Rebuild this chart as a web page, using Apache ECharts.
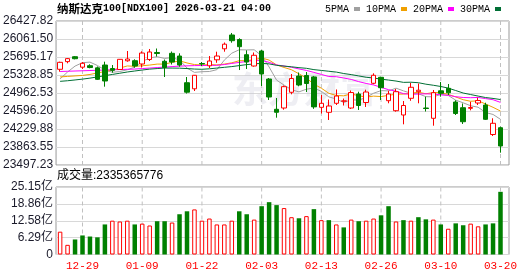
<!DOCTYPE html>
<html><head><meta charset="utf-8">
<script src="https://cdn.jsdelivr.net/npm/echarts@6/dist/echarts.min.js"></script>
<style>html,body{margin:0;padding:0;background:#fff}#c{width:530px;height:276px}</style>
</head><body><div id="c"></div>
<script>
const dates = ['12-23','12-24','12-26','12-29','12-30','12-31','01-02','01-05','01-06','01-07','01-08','01-09','01-12','01-13','01-14','01-15','01-16','01-20','01-21','01-22','01-23','01-26','01-27','01-28','01-29','01-30','02-02','02-03','02-04','02-05','02-06','02-09','02-10','02-11','02-12','02-13','02-17','02-18','02-19','02-20','02-23','02-24','02-25','02-26','02-27','03-02','03-03','03-04','03-05','03-06','03-09','03-10','03-11','03-12','03-13','03-16','03-17','03-18','03-19','03-20'];
const tickLabels = ['12-29','01-09','01-22','02-03','02-13','02-26','03-10','03-20'];
const open  = [25445,25601,25701,25488,25518,25474,25532,25461,25441,25618,25620,25553,25644,25787,25608,25770,25715,25172,25048,25563,25516,25638,25862,26143,26051,25742,25512,25817,25247,24631,24657,24977,25308,25319,25290,24671,24570,24753,24795,24657,24942,24769,25160,25282,24806,24602,24515,24855,24989,24657,24448,25007,25058,24779,24663,24651,24759,24718,24118,24256];
const close = [25587,25662,25660,25567,25481,25241,25207,25424,25648,25654,25512,25776,25797,25766,25481,25593,25532,24979,25323,25553,25614,25715,25956,26027,25905,25593,25730,25349,24881,24570,25091,25258,25125,25156,24680,24753,24698,24901,24803,24972,24708,24983,25323,25070,24942,24989,24708,25079,25019,24647,24969,24956,24967,24545,24378,24667,24810,24427,24346,23884];
const low   = [25396,25567,25648,25451,25465,25227,25091,25376,25431,25599,25477,25481,25614,25705,25288,25543,25497,24952,25003,25512,25471,25577,25803,25986,25430,25451,25498,25105,24820,24460,24623,24936,25099,24983,24640,24545,24413,24718,24708,24637,24617,24678,25140,24820,24753,24582,24325,24804,24753,24586,24297,24887,24922,24515,24332,24610,24718,24413,24087,23748];
const high  = [25600,25675,25715,25593,25547,25502,25600,25532,25654,25817,25648,25811,25858,25868,25644,25807,25770,25288,25329,25593,25715,25803,25990,26184,26076,25831,25787,25838,25268,24861,25115,25349,25380,25390,25310,24922,24830,25034,24850,25013,24989,25030,25363,25294,25009,25044,24800,25166,25156,24887,25024,25186,25146,24814,24749,24785,24866,24765,24448,24277];
const ma5  = [25250,25390,25510,25580,25591,25522,25431,25384,25400,25435,25489,25603,25677,25701,25666,25683,25634,25470,25382,25396,25400,25437,25632,25773,25843,25839,25842,25721,25492,25225,25124,25030,24985,25040,25064,24996,24884,24840,24769,24825,24816,24873,24958,25011,25005,25061,25006,24958,24947,24888,24884,24934,24912,24817,24763,24703,24673,24565,24526,24427];
const ma10 = [25290,25300,25310,25320,25340,25370,25400,25430,25470,25513,25506,25517,25531,25551,25551,25586,25618,25574,25541,25531,25541,25535,25551,25577,25620,25620,25640,25677,25632,25534,25482,25436,25353,25266,25144,25060,24957,24912,24905,24945,24906,24879,24899,24890,24915,24939,24940,24958,24979,24947,24973,24970,24935,24882,24826,24794,24804,24739,24671,24595];
const ma20 = [25400,25405,25410,25415,25420,25425,25430,25435,25440,25445,25450,25460,25470,25480,25490,25500,25510,25515,25520,25522,25524,25526,25541,25564,25585,25603,25629,25625,25587,25533,25512,25486,25452,25422,25382,25340,25298,25294,25268,25239,25194,25157,25126,25078,25030,25000,24949,24935,24942,24946,24940,24925,24917,24887,24871,24867,24872,24849,24826,24771];
const ma30 = [25200,25212,25228,25245,25265,25290,25315,25340,25365,25390,25410,25430,25448,25460,25470,25470,25468,25460,25450,25445,25455,25470,25485,25500,25520,25540,25555,25565,25555,25526,25510,25496,25478,25465,25438,25422,25405,25388,25359,25337,25310,25283,25268,25244,25226,25206,25179,25182,25172,25142,25120,25095,25062,25013,24962,24931,24900,24870,24852,24829];
const volume = [8.5e8,3.6e8,5.6e8,7.1e8,6.7e8,6.4e8,11.2e8,12.6e8,12.3e8,12.6e8,11.2e8,11.5e8,10.8e8,12.4e8,12.4e8,11.9e8,15.0e8,16.1e8,16.8e8,12.6e8,13.4e8,11.2e8,11.2e8,12.6e8,16.1e8,15.0e8,13.0e8,18.0e8,19.5e8,18.4e8,17.3e8,13.9e8,13.5e8,14.3e8,16.9e8,12.8e8,12.8e8,11.2e8,10.1e8,13.0e8,12.4e8,12.6e8,13.4e8,14.6e8,18.0e8,12.3e8,12.8e8,12.6e8,13.9e8,13.1e8,13.0e8,11.2e8,9.6e8,11.6e8,10.9e8,11.5e8,10.5e8,11.2e8,11.6e8,2335365776];
const priceMin = 23497.23, priceMax = 26427.82;
const volMax = 25.15e8;
const lastVolumeText = '2335365776';

const RED = '#ff0000', GREEN = '#008000';
const isTick = (i, v) => tickLabels.indexOf(v) >= 0;
const chart = echarts.init(document.getElementById('c'), null, {renderer: 'canvas'});
const candleData = dates.map((d, i) => [open[i], close[i], low[i], high[i]]);
const volData = volume.map((v, i) => {
  const up = i === 0 ? close[i] >= open[i] : close[i] >= close[i - 1];
  return {value: v, itemStyle: up ? {color: '#fff', borderColor: RED, borderWidth: 1} : {color: GREEN, borderColor: GREEN, borderWidth: 0}};
});
const gridL = 56.375, gridW = 447.86;
const tickIdx = tickLabels.map(d => dates.indexOf(d));
// vertical dashed guide lines at the labelled dates, placed by the category axes
const guide = (i, xi, yi, lo, hi) => ({
  type: 'line', xAxisIndex: xi, yAxisIndex: yi, data: [[i, lo], [i, hi]], silent: true, z: 1,
  showSymbol: false, lineStyle: {color: '#c0c0c0', type: [4, 3], width: 1}
});
const maLine = (name, data, color) => ({name, type: 'line', xAxisIndex: 1, yAxisIndex: 1, data, showSymbol: false, symbol: 'none', lineStyle: {width: 1, color}, itemStyle: {color}, z: 3, silent: true});

chart.setOption({
  animation: false,
  title: {
    left: 57, top: 3, padding: 0,
    text: '{a|纳斯达克}{b|100[NDX100] 2026-03-21 04:00}',
    textStyle: {rich: {
      a: {fontFamily: 'Noto Sans CJK SC', fontSize: 11.5, color: '#000'},
      b: {fontFamily: 'Liberation Mono', fontSize: 10, color: '#000'}
    }}
  },
  legend: {
    left: 325, top: 4, padding: 0, align: 'right', itemWidth: 6, itemHeight: 4, itemGap: 6, icon: 'rect',
    textStyle: {fontFamily: 'Liberation Mono', fontSize: 10, color: '#000'},
    data: ['5PMA', '10PMA', '20PMA', '30PMA']
  },
  graphic: [
    {type: 'text', left: 232, top: 71, z: 1, silent: true,
     style: {text: '东方财富', font: 'bold 36px "Noto Sans CJK SC"', fill: 'rgba(200,200,214,0.3)'}},
    {type: 'text', left: 57, top: 170, silent: true,
     style: {text: '成交量:' + lastVolumeText, font: '12px "Liberation Sans","Noto Sans CJK SC"', fill: '#000'}}
  ],
  grid: [
    {left: 56, top: 21, width: 453, height: 144, show: true, borderColor: '#999', borderWidth: 1, backgroundColor: 'transparent'},
    {left: gridL, top: 21, width: gridW, height: 144},
    {left: 56, top: 187, width: 453, height: 67.5, show: true, borderColor: '#999', borderWidth: 1, backgroundColor: 'transparent'},
    {left: gridL, top: 187, width: gridW, height: 67.5}
  ],
  xAxis: [
    {gridIndex: 0, type: 'value', min: 0, max: 1, show: false},
    {gridIndex: 1, type: 'category', data: dates, boundaryGap: true, axisLine: {show: false}, axisTick: {show: false}, axisLabel: {show: false}, splitLine: {show: false}},
    {gridIndex: 2, type: 'value', min: 0, max: 1, show: false},
    {gridIndex: 3, type: 'category', data: dates, boundaryGap: true, axisLine: {show: false}, axisTick: {show: false},
     axisLabel: {show: true, interval: isTick, color: RED, fontFamily: 'Liberation Mono', fontSize: 11, margin: 6},
     splitLine: {show: false}}
  ],
  yAxis: [
    {gridIndex: 0, type: 'value', min: priceMin, max: priceMax, interval: (priceMax - priceMin) / 8,
     axisLine: {show: false}, axisTick: {show: false},
     axisLabel: {margin: 3, color: '#1a1a2a', fontFamily: 'Liberation Sans', fontSize: 12, formatter: v => v.toFixed(2)},
     splitLine: {show: true, lineStyle: {color: '#d8d8d8', width: 1}}},
    {gridIndex: 1, type: 'value', min: priceMin, max: priceMax, show: false, splitLine: {show: false}},
    {gridIndex: 2, type: 'value', min: 0, max: volMax, interval: volMax / 4,
     axisLine: {show: false}, axisTick: {show: false},
     axisLabel: {margin: 3, color: '#1a1a2a', fontFamily: 'Liberation Sans, Noto Sans CJK SC', fontSize: 12,
       formatter: v => v === 0 ? '0' : (Math.round(v / 1e6) / 100).toFixed(2) + '亿'},
     splitLine: {show: true, lineStyle: {color: '#d8d8d8', width: 1}}},
    {gridIndex: 3, type: 'value', min: 0, max: volMax, show: false, splitLine: {show: false}}
  ],
  series: [
    ...tickIdx.map(i => guide(i, 1, 1, priceMin, priceMax)),
    ...tickIdx.map(i => guide(i, 3, 3, 0, volMax)),
    {type: 'candlestick', xAxisIndex: 1, yAxisIndex: 1, data: candleData, barWidth: 5, z: 4, silent: true,
     itemStyle: {color: '#fff', color0: GREEN, borderColor: RED, borderColor0: GREEN, borderWidth: 1}},
    maLine('5PMA', ma5, '#a0a0a0'),
    maLine('10PMA', ma10, '#f0a000'),
    maLine('20PMA', ma20, '#ff00ff'),
    maLine('30PMA', ma30, '#006f35'),
    {type: 'bar', xAxisIndex: 3, yAxisIndex: 3, data: volData, barWidth: 4.5, silent: true}
  ]
});
</script></body></html>
